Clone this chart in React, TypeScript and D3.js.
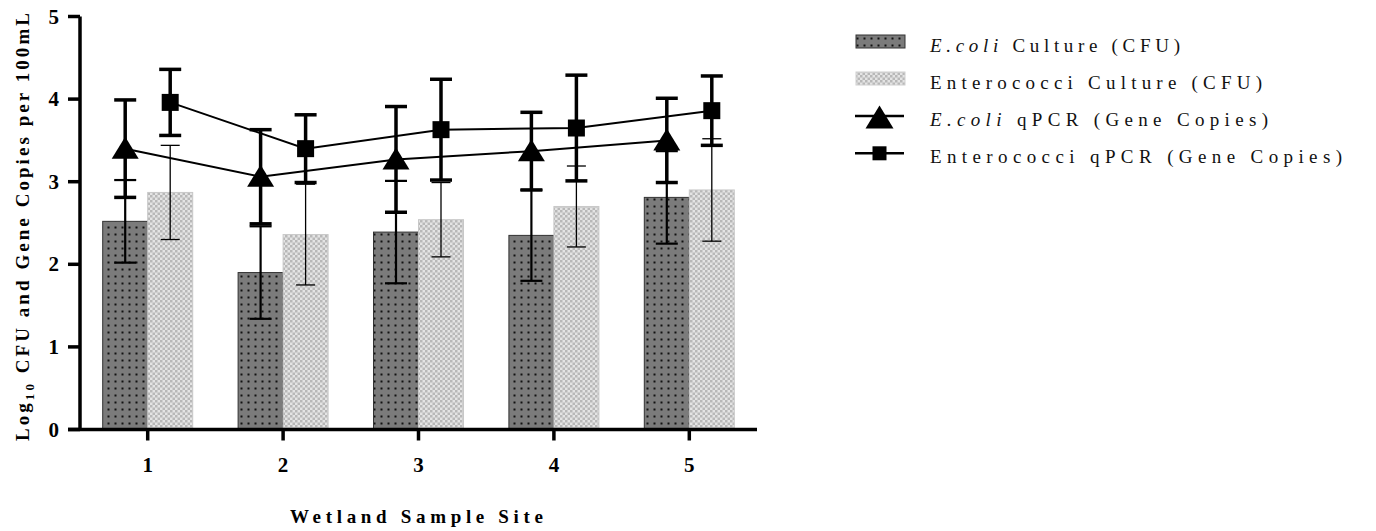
import React from "react";
import * as d3 from "d3";

const sites = ["1", "2", "3", "4", "5"];
const ecoliCulture = [2.52, 1.9, 2.39, 2.35, 2.81];
const ecoliCultureErr = [0.5, 0.56, 0.62, 0.55, 0.56];
const enteroCulture = [2.87, 2.36, 2.54, 2.7, 2.9];
const enteroCultureErr = [0.57, 0.61, 0.45, 0.49, 0.62];
const ecoliQpcr = [3.4, 3.06, 3.27, 3.37, 3.5];
const ecoliQpcrErr = [0.59, 0.57, 0.64, 0.47, 0.51];
const enteroQpcr = [3.96, 3.4, 3.63, 3.65, 3.86];
const enteroQpcrErr = [0.4, 0.41, 0.61, 0.64, 0.42];
const yTicks = [0, 1, 2, 3, 4, 5];

const W = 1376;
const H = 531;
const serif = "'Liberation Serif', 'Times New Roman', serif";

export default function App() {
  const x = d3.scaleBand<string>().domain(sites).range([80, 757]).padding(0);
  const y = d3.scaleLinear().domain([0, 5]).range([429.5, 16.5]);
  const barW = 45;
  const cx = (s: string) => (x(s) as number) + x.bandwidth() / 2;
  const leftX = (s: string) => cx(s) - barW / 2;
  const rightX = (s: string) => cx(s) + barW / 2;

  const line = d3
    .line<[number, number]>()
    .x((d) => d[0])
    .y((d) => d[1]);

  const triPath = (px: number, py: number, w = 27, h = 22) =>
    `M${px},${py - h / 2 - 1}L${px + w / 2},${py + h / 2 - 1}L${px - w / 2},${py + h / 2 - 1}Z`;

  const errBar = (
    px: number,
    v: number,
    e: number,
    sw: number,
    cap: number,
    key: string,
    up = true,
    down = true
  ) => (
    <g key={key} stroke="#000" strokeWidth={sw} fill="none">
      <line x1={px} x2={px} y1={y(down ? v - e : v)} y2={y(up ? v + e : v)} />
      {up && <line x1={px - cap / 2} x2={px + cap / 2} y1={y(v + e)} y2={y(v + e)} />}
      {down && <line x1={px - cap / 2} x2={px + cap / 2} y1={y(v - e)} y2={y(v - e)} />}
    </g>
  );

  const legendRows = [
    { base: 51.5, label: [["E.coli", true], [" Culture (CFU)", false]], len: 250, kind: "ecoli" },
    { base: 88.5, label: [["Enterococci Culture (CFU)", false]], len: 332, kind: "entero" },
    { base: 126, label: [["E.coli", true], [" qPCR (Gene Copies)", false]], len: 338, kind: "tri" },
    { base: 163.3, label: [["Enterococci qPCR (Gene Copies)", false]], len: 412, kind: "sq" },
  ] as const;

  return (
    <svg
      width={W}
      height={H}
      style={{ position: "absolute", left: 0, top: 0, background: "#fff" }}
      fontFamily={serif}
    >
      <defs>
        <pattern id="dots" width="7" height="7" patternUnits="userSpaceOnUse">
          <rect width="7" height="7" fill="#7b7b7b" />
          <rect x="2.5" y="2.5" width="2" height="2" fill="#111" />
        </pattern>
        <pattern id="checker" width="5" height="5" patternUnits="userSpaceOnUse">
          <rect width="5" height="5" fill="#e4e4e4" />
          <rect width="2.5" height="2.5" fill="#b8b8b8" />
          <rect x="2.5" y="2.5" width="2.5" height="2.5" fill="#b8b8b8" />
        </pattern>
      </defs>

      {/* bars */}
      {sites.map((s, i) => (
        <g key={"b" + s}>
          <rect
            x={leftX(s) - barW / 2}
            y={y(ecoliCulture[i])}
            width={barW}
            height={y(0) - y(ecoliCulture[i])}
            fill="url(#dots)"
            stroke="#333"
            strokeWidth={1}
          />
          <rect
            x={rightX(s) - barW / 2}
            y={y(enteroCulture[i])}
            width={barW}
            height={y(0) - y(enteroCulture[i])}
            fill="url(#checker)"
            stroke="#c8c8c8"
            strokeWidth={1}
          />
        </g>
      ))}

      {/* culture error bars */}
      {sites.map((s, i) => errBar(rightX(s), enteroCulture[i], enteroCultureErr[i], 1.3, 19, "ee" + s))}
      {sites.map((s, i) => errBar(leftX(s), ecoliCulture[i], ecoliCultureErr[i], 2.2, 22, "ec" + s))}

      {/* lines */}
      <path
        d={line(sites.map((s, i) => [leftX(s), y(ecoliQpcr[i])]) as [number, number][]) || ""}
        fill="none"
        stroke="#000"
        strokeWidth={2}
      />
      <path
        d={line(sites.map((s, i) => [rightX(s), y(enteroQpcr[i])]) as [number, number][]) || ""}
        fill="none"
        stroke="#000"
        strokeWidth={2}
      />

      {/* qPCR error bars */}
      {sites.map((s, i) => errBar(leftX(s), ecoliQpcr[i], ecoliQpcrErr[i], 3.5, 22, "eq" + s))}
      {sites.map((s, i) => errBar(rightX(s), enteroQpcr[i], enteroQpcrErr[i], 3.5, 22, "nq" + s))}

      {/* markers */}
      {sites.map((s, i) => (
        <path key={"t" + s} d={triPath(leftX(s), y(ecoliQpcr[i]))} fill="#000" />
      ))}
      {sites.map((s, i) => (
        <rect key={"s" + s} x={rightX(s) - 8.5} y={y(enteroQpcr[i]) - 8.5} width={17} height={17} fill="#000" />
      ))}

      {/* axes */}
      <line x1={80} x2={80} y1={y(5)} y2={y(0) + 1.5} stroke="#000" strokeWidth={3.5} />
      <line x1={68} x2={757} y1={y(0)} y2={y(0)} stroke="#000" strokeWidth={3.5} />
      {yTicks.map((t) => (
        <g key={"yt" + t}>
          <line x1={68} x2={80} y1={y(t)} y2={y(t)} stroke="#000" strokeWidth={3.5} />
          <text x={59} y={y(t) + 7} textAnchor="end" fontSize={21} fontWeight="bold">
            {t}
          </text>
        </g>
      ))}
      {sites.map((s) => (
        <g key={"xt" + s}>
          <line x1={cx(s)} x2={cx(s)} y1={y(0)} y2={y(0) + 11} stroke="#000" strokeWidth={3.5} />
          <text x={cx(s)} y={472} textAnchor="middle" fontSize={21} fontWeight="bold">
            {s}
          </text>
        </g>
      ))}

      {/* axis titles */}
      <text
        x={290}
        y={523}
        fontSize={19}
        fontWeight="bold"
        textLength={253}
        lengthAdjust="spacing"
      >
        Wetland Sample Site
      </text>
      <text
        transform="translate(29,441) rotate(-90)"
        fontSize={19}
        fontWeight="bold"
        textLength={428}
        lengthAdjust="spacing"
      >
        Log<tspan fontSize={13} dy={5}>10</tspan>
        <tspan dy={-5}> CFU and Gene Copies per 100mL</tspan>
      </text>

      {/* legend */}
      {legendRows.map((r) => {
        const cyy = r.base - 10;
        return (
          <g key={r.kind}>
            {r.kind === "ecoli" && (
              <rect x={856} y={cyy - 6.5} width={49} height={13} fill="url(#dots)" stroke="#333" strokeWidth={1} />
            )}
            {r.kind === "entero" && (
              <rect x={856} y={cyy - 6.5} width={49} height={13} fill="url(#checker)" stroke="#d0d0d0" strokeWidth={1} />
            )}
            {r.kind === "tri" && (
              <g>
                <line x1={855} x2={904} y1={cyy} y2={cyy} stroke="#000" strokeWidth={2.5} />
                <path d={triPath(879.5, cyy + 2, 28, 23)} fill="#000" />
              </g>
            )}
            {r.kind === "sq" && (
              <g>
                <line x1={855} x2={904} y1={cyy} y2={cyy} stroke="#000" strokeWidth={2.5} />
                <rect x={879.5 - 7} y={cyy - 7} width={14} height={14} fill="#000" />
              </g>
            )}
            <text x={930} y={r.base} fontSize={19} fill="#111" textLength={r.len} lengthAdjust="spacing">
              {r.label.map(([t, it], k) => (
                <tspan key={k} fontStyle={it ? "italic" : "normal"}>
                  {t}
                </tspan>
              ))}
            </text>
          </g>
        );
      })}
    </svg>
  );
}
